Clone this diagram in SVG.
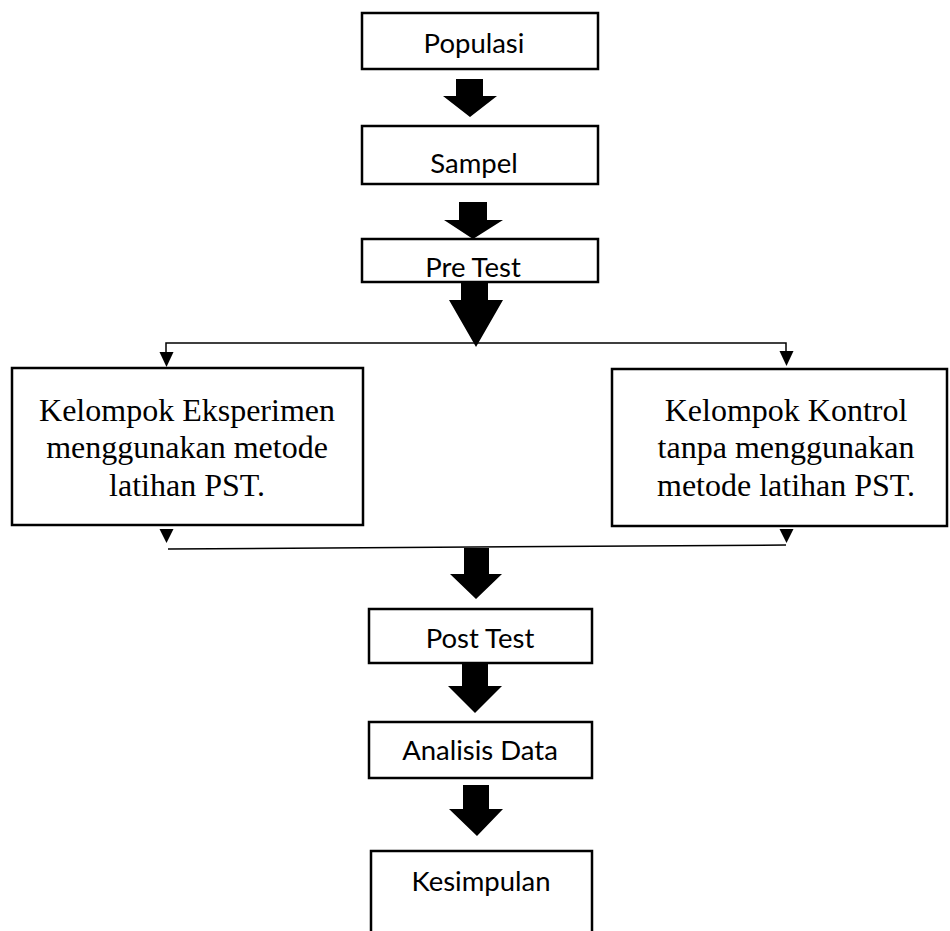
<svg xmlns="http://www.w3.org/2000/svg" width="950" height="931" viewBox="0 0 950 931">
<defs>
<style>
.box{fill:#fff;stroke:#000;stroke-width:2.5}
.sans{font-family:Lato,"Open Sans","Liberation Sans",sans-serif;font-size:27.5px;fill:#000;text-anchor:middle}
.serif{font-family:"Liberation Serif","Times New Roman",serif;font-size:32px;fill:#000;text-anchor:middle}
.thin{fill:none;stroke:#000;stroke-width:1.5}
.block{fill:#000}
</style>
</defs>
<rect width="950" height="931" fill="#fff"/>
<g id="connectors">
<polygon class="block" points="456,79 483,79 483,96 497,96 470,117 443,96 456,96"/>
<polygon class="block" points="459,202 487,202 487,220 503,220 473,239 444,220 459,220"/>
<polygon class="block" points="461,282 488,282 488,300 503,300 476,347 449,300 461,300"/>
<path class="thin" d="M476,343 H166 V352"/>
<path class="thin" d="M476,343 H786 V351"/>
<polygon class="block" points="159.5,352 173.5,352 166.5,367"/>
<polygon class="block" points="779.5,351 793.5,351 786.5,366"/>
<polygon class="block" points="159.5,529 173.5,529 166.5,543"/>
<polygon class="block" points="779.5,529 793.5,529 786.5,543"/>
<path class="thin" d="M168,549 L786,545"/>
<polygon class="block" points="464,548 489,548 489,574 502,574 476,599 450,574 464,574"/>
<polygon class="block" points="462,663 488,663 488,686 502,686 475,713 448,686 462,686"/>
<polygon class="block" points="463,785 489,785 489,809 503,809 477,836 449,809 463,809"/>
</g>
<g id="populasi">
<rect class="box" x="362" y="13" width="236" height="56"/>
<text class="sans" x="474" y="53">Populasi</text>
</g>
<g id="sampel">
<rect class="box" x="362" y="126" width="236" height="58"/>
<text class="sans" x="474" y="173">Sampel</text>
</g>
<g id="pretest">
<rect class="box" x="362" y="239" width="236" height="43"/>
<text class="sans" x="473" y="277">Pre Test</text>
</g>
<g id="eksperimen">
<rect class="box" x="12" y="368" width="351" height="157"/>
<text class="serif" x="187" y="421">Kelompok Eksperimen</text>
<text class="serif" x="187" y="458">menggunakan metode</text>
<text class="serif" x="187" y="496">latihan PST.</text>
</g>
<g id="kontrol">
<rect class="box" x="612" y="369" width="335" height="157"/>
<text class="serif" x="786" y="421">Kelompok Kontrol</text>
<text class="serif" x="786" y="458">tanpa menggunakan</text>
<text class="serif" x="786" y="496">metode latihan PST.</text>
</g>
<g id="posttest">
<rect class="box" x="369" y="609" width="223" height="54"/>
<text class="sans" x="480" y="648">Post Test</text>
</g>
<g id="analisis">
<rect class="box" x="369" y="722" width="223" height="56"/>
<text class="sans" x="480" y="760">Analisis Data</text>
</g>
<g id="kesimpulan">
<rect class="box" x="371" y="851" width="221" height="100"/>
<text class="sans" x="481" y="891">Kesimpulan</text>
</g>
</svg>
